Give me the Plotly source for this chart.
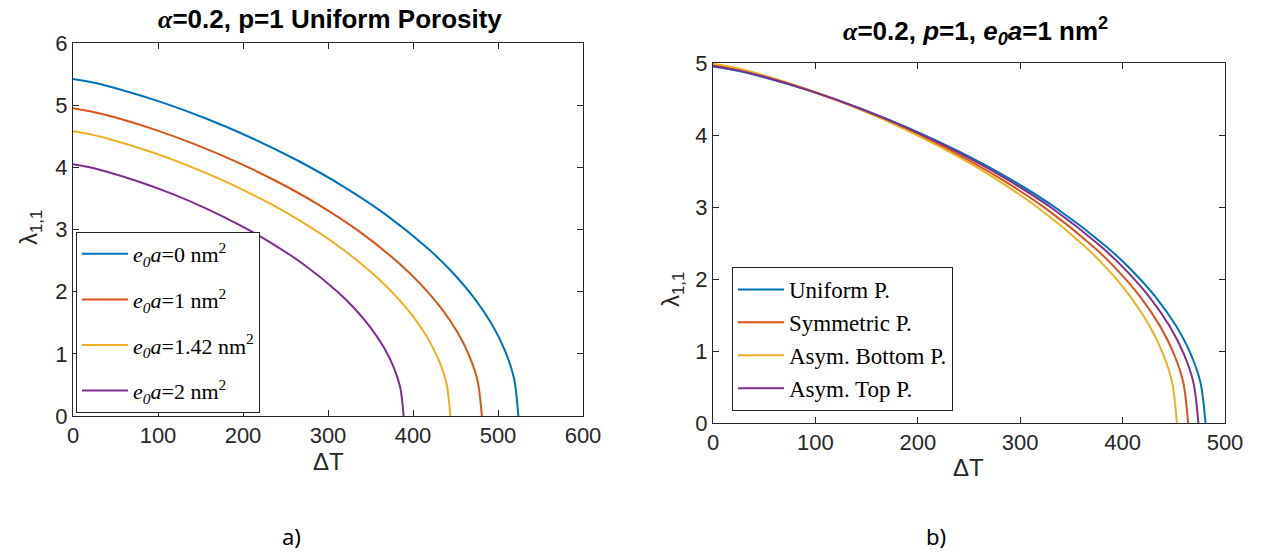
import plotly.graph_objects as go

# ---------------- data ----------------
# Panel a): alpha=0.2, p=1, uniform porosity, various e0a
a_labels = ["<i>e</i><sub><i>0</i></sub><i>a</i>=0 nm<sup>2</sup>",
            "<i>e</i><sub><i>0</i></sub><i>a</i>=1 nm<sup>2</sup>",
            "<i>e</i><sub><i>0</i></sub><i>a</i>=1.42 nm<sup>2</sup>",
            "<i>e</i><sub><i>0</i></sub><i>a</i>=2 nm<sup>2</sup>"]

a_dT_0 = [0, 26.2, 52.4, 104.8, 157.2, 209.6, 262, 314.4, 366.8, 419.2, 445.4, 471.6, 492.6, 508.3, 518.8, 524]
a_lam_0 = [5.42, 5.356, 5.265, 5.045, 4.781, 4.476, 4.126, 3.723, 3.251, 2.674, 2.324, 1.904, 1.479, 1.048, 0.606, 0]

a_dT_1 = [0, 24.05, 48.1, 96.2, 144.3, 192.4, 240.5, 288.6, 336.7, 384.8, 408.85, 432.9, 452.14, 466.57, 476.19, 481]
a_lam_1 = [4.95, 4.891, 4.809, 4.607, 4.366, 4.088, 3.768, 3.401, 2.969, 2.442, 2.122, 1.739, 1.350, 0.957, 0.553, 0]

a_dT_142 = [0, 22.2, 44.4, 88.8, 133.2, 177.6, 222, 266.4, 310.8, 355.2, 377.4, 399.6, 417.36, 430.68, 439.56, 444]
a_lam_142 = [4.58, 4.526, 4.449, 4.263, 4.040, 3.782, 3.487, 3.146, 2.747, 2.260, 1.964, 1.609, 1.250, 0.885, 0.512, 0]

a_dT_2 = [0, 19.45, 38.9, 77.8, 116.7, 155.6, 194.5, 233.4, 272.3, 311.2, 330.65, 350.1, 365.66, 377.33, 385.11, 389]
a_lam_2 = [4.05, 4.002, 3.934, 3.769, 3.572, 3.344, 3.083, 2.782, 2.429, 1.998, 1.737, 1.423, 1.105, 0.783, 0.452, 0]

# Panel b): alpha=0.2, p=1, e0a=1 nm^2, porosity distributions
b_labels = ["Uniform P.", "Symmetric P.", "Asym. Bottom P.", "Asym. Top P."]

b_dT_uni = [0, 24.05, 48.1, 96.2, 144.3, 192.4, 240.5, 288.6, 336.7, 384.8, 408.85, 432.9, 452.14, 466.57, 476.19, 481]
b_lam_uni = [4.95, 4.891, 4.809, 4.607, 4.366, 4.088, 3.768, 3.401, 2.969, 2.442, 2.122, 1.739, 1.350, 0.957, 0.553, 0]

b_dT_sym = [0, 23.2, 46.4, 92.8, 139.2, 185.6, 232, 278.4, 324.8, 371.2, 394.4, 417.6, 436.16, 450.08, 459.36, 464]
b_lam_sym = [4.97, 4.911, 4.828, 4.626, 4.384, 4.104, 3.784, 3.414, 2.981, 2.452, 2.131, 1.746, 1.356, 0.961, 0.555, 0]

b_dT_bot = [0, 22.65, 45.3, 90.6, 135.9, 181.2, 226.5, 271.8, 317.1, 362.4, 385.05, 407.7, 425.82, 439.41, 448.47, 453]
b_lam_bot = [4.99, 4.931, 4.848, 4.644, 4.401, 4.121, 3.799, 3.428, 2.993, 2.462, 2.140, 1.753, 1.361, 0.964, 0.557, 0]

b_dT_top = [0, 23.7, 47.4, 94.8, 142.2, 189.6, 237, 284.4, 331.8, 379.2, 402.9, 426.6, 445.56, 459.78, 469.26, 474]
b_lam_top = [4.96, 4.901, 4.819, 4.616, 4.375, 4.096, 3.776, 3.407, 2.975, 2.447, 2.127, 1.742, 1.353, 0.959, 0.554, 0]

colors = ["#0072BD", "#D95319", "#EDB120", "#7E2F8E"]

# ---------------- figure ----------------
W, H = 1261, 553
fig = go.Figure()

a_series = [(a_dT_0, a_lam_0), (a_dT_1, a_lam_1), (a_dT_142, a_lam_142), (a_dT_2, a_lam_2)]
for i, ((x, y), name, c) in enumerate(zip(a_series, a_labels, colors)):
    fig.add_trace(go.Scatter(x=x, y=y, mode="lines", name=name, legendgroup=f"a{i}",
                             line=dict(color=c, width=2, shape="spline", smoothing=0.8),
                             xaxis="x", yaxis="y", legend="legend"))

b_series = [(b_dT_uni, b_lam_uni), (b_dT_sym, b_lam_sym), (b_dT_bot, b_lam_bot), (b_dT_top, b_lam_top)]
for i, ((x, y), name, c) in enumerate(zip(b_series, b_labels, colors)):
    fig.add_trace(go.Scatter(x=x, y=y, mode="lines", name=name, legendgroup=f"b{i}",
                             line=dict(color=c, width=2, shape="spline", smoothing=0.8),
                             xaxis="x2", yaxis="y2", legend="legend2"))

def px(xp):
    return xp / W

def py(yp):
    return 1 - yp / H

axcol = "#262626"
tickfont = dict(family="Liberation Sans, Arial", size=22, color=axcol)
common = dict(showline=True, linecolor=axcol, linewidth=1, mirror="ticks",
              ticks="inside", ticklen=6, tickcolor=axcol, tickwidth=1,
              showgrid=False, zeroline=False, tickfont=tickfont, automargin=False)

fig.update_layout(
    width=W, height=H,
    margin=dict(l=0, r=0, t=0, b=0, autoexpand=False),
    paper_bgcolor="white", plot_bgcolor="white",
    xaxis=dict(domain=[px(73), px(583)], range=[0, 600], dtick=100, anchor="y", **common),
    yaxis=dict(domain=[py(416), py(43)], range=[0, 6], dtick=1, anchor="x", **common),
    xaxis2=dict(domain=[px(713), px(1225)], range=[0, 500], dtick=100, anchor="y2", **common),
    yaxis2=dict(domain=[py(423), py(63)], range=[0, 5], dtick=1, anchor="x2", **common),
    legend=dict(x=px(76), y=py(413), xanchor="left", yanchor="bottom",
                bgcolor="white", bordercolor=axcol, borderwidth=1,
                font=dict(family="Liberation Serif, Times New Roman", size=22, color="black"),
                itemwidth=46, tracegroupgap=14, traceorder="grouped"),
    legend2=dict(x=px(732), y=py(267), xanchor="left", yanchor="top",
                 bgcolor="white", bordercolor=axcol, borderwidth=1,
                 font=dict(family="Liberation Serif, Times New Roman", size=23, color="black"),
                 itemwidth=46, tracegroupgap=0, traceorder="grouped"),
    showlegend=True,
)

ann_font = dict(family="Liberation Sans, Arial", size=24, color=axcol)
title_font = dict(family="Liberation Sans, Arial", size=26, color="black")
annotations = [
    dict(x=px(330), y=py(19), text="<b><span style='font-family:Liberation Serif'><i>α</i></span>=0.2, p=1 Uniform Porosity</b>",
         font=title_font),
    dict(x=px(975), y=py(31), text="<b><span style='font-family:Liberation Serif'><i>α</i></span>=0.2, <i>p</i>=1, <i>e</i><sub><i>0</i></sub><i>a</i>=1 nm<sup>2</sup></b>",
         font=title_font),
    dict(x=px(328), y=py(461), text="ΔT", font=ann_font),
    dict(x=px(968), y=py(467), text="ΔT", font=ann_font),
    dict(x=px(30), y=py(228), text="λ<sub>1,1</sub>", textangle=-90, font=ann_font),
    dict(x=px(672), y=py(290), text="λ<sub>1,1</sub>", textangle=-90, font=ann_font),
    dict(x=px(291), y=py(536), text="a)", font=dict(family="Noto Sans", size=22, color="black")),
    dict(x=px(936), y=py(536), text="b)", font=dict(family="Noto Sans", size=22, color="black")),
]
for a in annotations:
    a.update(xref="paper", yref="paper", showarrow=False, xanchor="center", yanchor="middle")
fig.update_layout(annotations=annotations)

fig.write_html("out.html", config={"displayModeBar": False},
               post_script="document.body.style.margin='0';")
